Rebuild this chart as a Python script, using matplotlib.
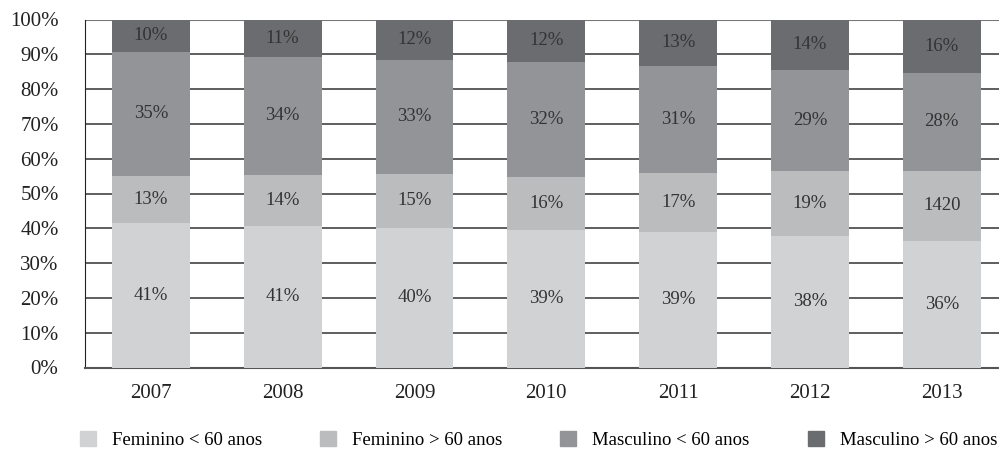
import numpy as np
import matplotlib
matplotlib.use('Agg')
import matplotlib.pyplot as plt
import matplotlib.patches as mpatches

plt.rcParams['font.family'] = 'Liberation Serif'

years = ['2007', '2008', '2009', '2010', '2011', '2012', '2013']
series = ['Feminino < 60 anos', 'Feminino > 60 anos', 'Masculino < 60 anos', 'Masculino > 60 anos']

# segment heights (percent of each bar)
fem_lt60 = [41.6, 40.7, 40.1, 39.5, 38.9, 37.8, 36.4]
fem_gt60 = [13.5, 14.7, 15.6, 15.3, 17.0, 18.7, 20.1]
masc_lt60 = [35.6, 33.8, 32.7, 33.1, 30.7, 29.0, 28.1]
masc_gt60 = [9.3, 10.8, 11.6, 12.1, 13.4, 14.5, 15.4]

# labels as printed in the chart
fem_lt60_lbl = ['41%', '41%', '40%', '39%', '39%', '38%', '36%']
fem_gt60_lbl = ['13%', '14%', '15%', '16%', '17%', '19%', '1420']
masc_lt60_lbl = ['35%', '34%', '33%', '32%', '31%', '29%', '28%']
masc_gt60_lbl = ['10%', '11%', '12%', '12%', '13%', '14%', '16%']

colors = ['#d1d2d4', '#bbbcbe', '#939497', '#6b6c6f']

fig = plt.figure(figsize=(9.99, 4.49), dpi=100)
ax = fig.add_axes([85 / 999, 81.5 / 449, 922.6 / 999, 348 / 449])

x = np.arange(len(years))
bottom = np.zeros(len(years))
for vals, lbls, c in zip([fem_lt60, fem_gt60, masc_lt60, masc_gt60],
                         [fem_lt60_lbl, fem_gt60_lbl, masc_lt60_lbl, masc_gt60_lbl],
                         colors):
    vals = np.array(vals)
    ax.bar(x, vals, bottom=bottom, width=0.59, color=c, zorder=3)
    for xi, b, v, l in zip(x, bottom, vals, lbls):
        ax.text(xi, b + v / 2, l, ha='center', va='center', fontsize=13.5, color='#333333', zorder=4)
    bottom = bottom + vals

ax.set_xlim(-0.5, len(years) - 0.5)
ax.set_ylim(0, 100)
ax.set_yticks(np.arange(0, 101, 10))
ax.set_yticklabels([f'{v}%' for v in range(0, 101, 10)])
ax.set_xticks(x)
ax.set_xticklabels(years)
ax.tick_params(axis='y', length=0, pad=19, labelsize=15, colors='#222222')
ax.tick_params(axis='x', length=0, pad=12, labelsize=15, colors='#222222')
ax.yaxis.grid(True, color='#333333', linewidth=1.1, zorder=0)
ax.set_axisbelow(True)
for s in ['top', 'right']:
    ax.spines[s].set_visible(False)
ax.spines['left'].set_color('#222222')
ax.spines['bottom'].set_color('#555555')
ax.spines['bottom'].set_linewidth(1.5)
ax.axhline(100, color='#777777', linewidth=1.5, zorder=1)

handles = [mpatches.Patch(color=c, label=s) for c, s in zip(colors, series)]
fig.legend(handles=handles, ncol=4, loc='center left', bbox_to_anchor=(80 / 999, 9 / 449),
           frameon=False, fontsize=13.5, borderpad=0, borderaxespad=0,
           handlelength=0.85, handleheight=0.85,
           handletextpad=0.85, columnspacing=3.1)

fig.savefig('out.png', dpi=100)
